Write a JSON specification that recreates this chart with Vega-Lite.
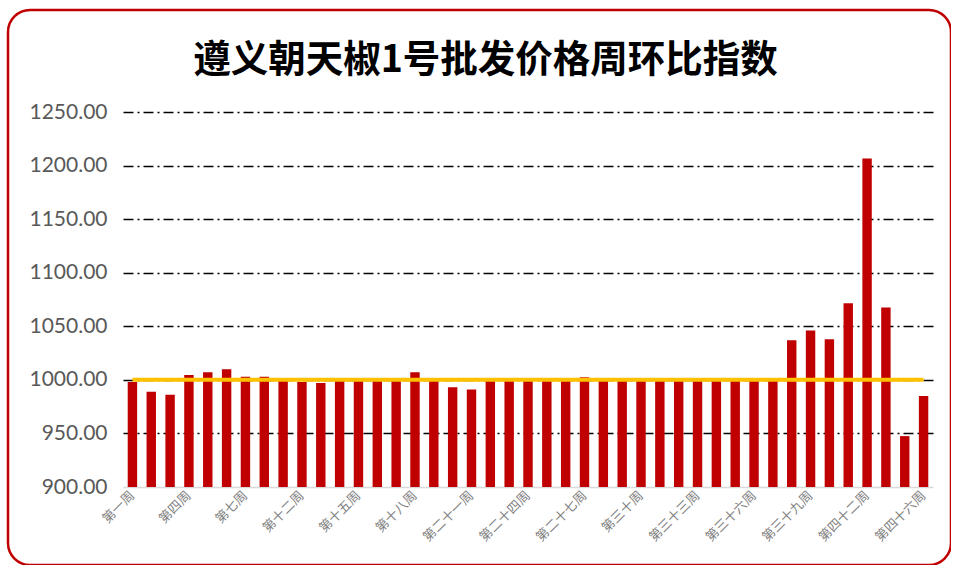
{
  "$schema": "https://vega.github.io/schema/vega-lite/v6.json",
  "autosize": {"type": "none"},
  "padding": {"left": 8, "top": 10, "right": 0, "bottom": 0},
  "width": 943,
  "height": 555,
  "background": "white",
  "title": {
    "text": "遵义朝天椒1号批发价格周环比指数",
    "font": "Noto Sans CJK SC",
    "fontSize": 37.5,
    "fontWeight": "bold",
    "color": "#000000",
    "anchor": "middle",
    "baseline": "bottom",
    "offset": -64,
    "dx": 6,
    "dy": 43
  },
  "config": {
    "view": {"stroke": "#C00000", "strokeWidth": 2.5, "cornerRadius": 22, "fill": "white"}
  },
  "data": {
    "values": [
      {"week": "第一周", "index": 998},
      {"week": "第二周", "index": 989},
      {"week": "第三周", "index": 986},
      {"week": "第四周", "index": 1004.5},
      {"week": "第五周", "index": 1007},
      {"week": "第六周", "index": 1010},
      {"week": "第七周", "index": 1003},
      {"week": "第十周", "index": 1003},
      {"week": "第十一周", "index": 999},
      {"week": "第十二周", "index": 998},
      {"week": "第十三周", "index": 997},
      {"week": "第十四周", "index": 999},
      {"week": "第十五周", "index": 1001},
      {"week": "第十六周", "index": 999},
      {"week": "第十七周", "index": 1000},
      {"week": "第十八周", "index": 1007},
      {"week": "第十九周", "index": 999},
      {"week": "第二十周", "index": 993},
      {"week": "第二十一周", "index": 991},
      {"week": "第二十二周", "index": 999},
      {"week": "第二十三周", "index": 1000},
      {"week": "第二十四周", "index": 999},
      {"week": "第二十五周", "index": 999},
      {"week": "第二十六周", "index": 1000},
      {"week": "第二十七周", "index": 1002.5},
      {"week": "第二十八周", "index": 999},
      {"week": "第二十九周", "index": 999},
      {"week": "第三十周", "index": 1000},
      {"week": "第三十一周", "index": 999},
      {"week": "第三十二周", "index": 1000},
      {"week": "第三十三周", "index": 999},
      {"week": "第三十四周", "index": 1000},
      {"week": "第三十五周", "index": 999},
      {"week": "第三十六周", "index": 999},
      {"week": "第三十七周", "index": 999},
      {"week": "第三十八周", "index": 1037},
      {"week": "第三十九周", "index": 1046},
      {"week": "第四十周", "index": 1038},
      {"week": "第四十一周", "index": 1071.5},
      {"week": "第四十二周", "index": 1206.5},
      {"week": "第四十三周", "index": 1067.5},
      {"week": "第四十四周", "index": 947.5},
      {"week": "第四十六周", "index": 985}
    ]
  },
  "encoding": {
    "x": {
      "field": "week",
      "type": "nominal",
      "sort": null,
      "scale": {"range": [115, 925], "paddingInner": 0.5, "paddingOuter": 0.25},
      "axis": {
        "title": null,
        "values": ["第一周", "第四周", "第七周", "第十二周", "第十五周", "第十八周", "第二十一周", "第二十四周", "第二十七周", "第三十周", "第三十三周", "第三十六周", "第三十九周", "第四十二周", "第四十六周"],
        "ticks": false,
        "grid": false,
        "domainColor": "#D9D9D9",
        "domainWidth": 1.5,
        "labelAngle": -45,
        "labelAlign": "right",
        "labelBaseline": "middle",
        "labelFont": "Noto Sans CJK SC",
        "labelFontSize": 13,
        "labelColor": "#7F7F7F",
        "labelPadding": 6,
        "offset": -78
      }
    }
  },
  "layer": [
    {
      "mark": {"type": "bar", "color": "#C00000"},
      "encoding": {
        "y": {
          "field": "index",
          "type": "quantitative",
          "scale": {"domain": [900, 1250], "range": [477, 102], "zero": false, "nice": false},
          "axis": {
            "title": null,
            "values": [900, 950, 1000, 1050, 1100, 1150, 1200, 1250],
            "format": ".2f",
            "domain": false,
            "ticks": false,
            "grid": true,
            "gridColor": {"condition": {"test": "datum.value === 900", "value": "transparent"}, "value": "#000000"},
            "gridDash": [10, 4, 2, 4],
            "gridWidth": 1.5,
            "labelFont": "Lato",
            "labelFontSize": 21,
            "labelColor": "#595959",
            "labelPadding": 5,
            "offset": -104
          }
        },
        "y2": {"datum": 900}
      }
    },
    {
      "mark": {"type": "line", "color": "#FFC000", "strokeWidth": 4, "strokeCap": "butt"},
      "encoding": {
        "y": {"datum": 1000}
      }
    }
  ]
}
